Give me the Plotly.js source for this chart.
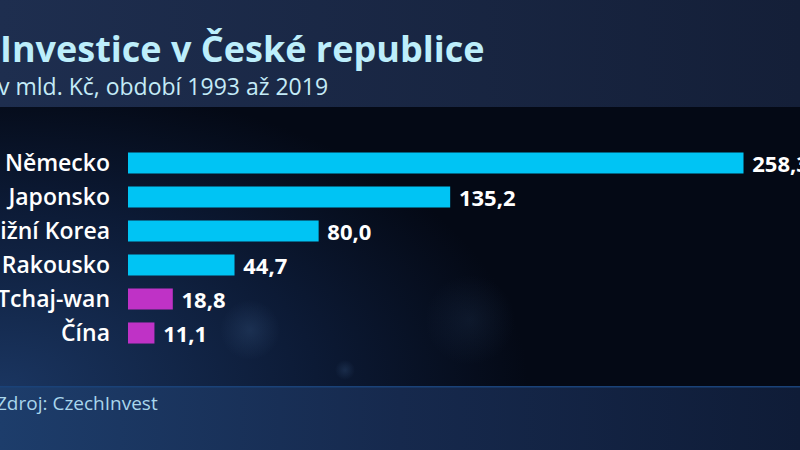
<!DOCTYPE html>
<html>
<head>
<meta charset="utf-8">
<script src="https://cdn.plot.ly/plotly-3.0.1.min.js"></script>
<style>html,body{margin:0;padding:0;background:#050a18;}#chart{width:800px;height:450px;}</style>
</head>
<body>
<div id="chart"></div>
<script>
// Data
const countries = ["Německo", "Japonsko", "Jižní Korea", "Rakousko", "Tchaj-wan", "Čína"];
const values = [258.3, 135.2, 80.0, 44.7, 18.8, 11.1];
const barColors = ["#00c4f4", "#00c4f4", "#00c4f4", "#00c4f4", "#bf32c6", "#bf32c6"];
const titleText = "Investice v České republice";
const subtitleText = "v mld. Kč, období 1993 až 2019";
const sourceText = "Zdroj: CzechInvest";

// geometry helpers (pixel -> paper)
const W = 800, H = 450, L = 128, R = 0, T = 146, B = 100;
const pw = W - L - R, ph = H - T - B;
const px = x => (x - L) / pw;
const py = y => (H - B - y) / ph;

const bg = `<svg xmlns="http://www.w3.org/2000/svg" width="800" height="450" viewBox="0 0 800 450">
<defs>
<linearGradient id="top" x1="0" y1="0" x2="1" y2="0">
<stop offset="0" stop-color="#1e2e4f"/><stop offset="1" stop-color="#141f38"/></linearGradient>
<radialGradient id="mid" cx="0" cy="1" r="1.1" gradientUnits="objectBoundingBox" gradientTransform="scale(0.6,1)">
<stop offset="0" stop-color="#1a3560"/><stop offset="0.6" stop-color="#0c1a35"/><stop offset="1" stop-color="#040915"/></radialGradient>
<linearGradient id="foot" x1="0" y1="0" x2="1" y2="0">
<stop offset="0" stop-color="#1d3d6b"/><stop offset="0.5" stop-color="#16294d"/><stop offset="1" stop-color="#0f1c37"/></linearGradient>
<radialGradient id="bok" cx="0.5" cy="0.5" r="0.5"><stop offset="0" stop-color="#3a5a85" stop-opacity="0.3"/><stop offset="1" stop-color="#3a5a85" stop-opacity="0"/></radialGradient>
</defs>
<rect x="0" y="0" width="800" height="450" fill="#050a18"/>
<rect x="0" y="107" width="800" height="280" fill="url(#mid)"/>
<circle cx="345" cy="370" r="10" fill="url(#bok)"/>
<circle cx="250" cy="330" r="30" fill="url(#bok)"/>
<circle cx="470" cy="320" r="45" fill="url(#bok)" opacity="0.5"/>
<rect x="0" y="0" width="800" height="107" fill="url(#top)"/>
<rect x="0" y="387" width="800" height="63" fill="url(#foot)"/>
<rect x="0" y="386" width="800" height="1.5" fill="#1a4278"/>
</svg>`;

const trace = {
  type: "bar",
  orientation: "h",
  x: values,
  y: countries,
  marker: { color: barColors, line: { width: 0 } },
  texttemplate: "\u00a0%{x:.1f}",
  textposition: "outside",
  constraintext: "none",
  cliponaxis: false,
  textfont: { family: "Open Sans", size: 22, color: "#ffffff", weight: 700 },
  hoverinfo: "skip"
};

const layout = {
  width: W, height: H,
  margin: { l: L, r: R, t: T, b: B, pad: 0 },
  paper_bgcolor: "#050a18",
  plot_bgcolor: "rgba(0,0,0,0)",
  separators: ", ",
  showlegend: false,
  bargap: 0.38,
  xaxis: { range: [0, 282], visible: false, showgrid: false, zeroline: false, fixedrange: true },
  yaxis: {
    autorange: "reversed", showgrid: false, zeroline: false, showline: false, ticks: "",
    ticklabelstandoff: 17,
    tickfont: { family: "Open Sans", size: 23, color: "#ffffff", weight: 600 }
  },
  images: [{
    source: "data:image/svg+xml;charset=utf-8," + encodeURIComponent(bg),
    xref: "paper", yref: "paper", x: px(0), y: py(0), sizex: W / pw, sizey: H / ph,
    xanchor: "left", yanchor: "top", sizing: "stretch", layer: "below"
  }],
  annotations: [
    { text: titleText, xref: "paper", yref: "paper", x: px(-2), y: py(49), xanchor: "left", yanchor: "middle",
      showarrow: false, font: { family: "Open Sans", size: 36, color: "#bdeefb", weight: 700 } },
    { text: subtitleText, xref: "paper", yref: "paper", x: px(-4), y: py(86), xanchor: "left", yanchor: "middle",
      showarrow: false, font: { family: "Open Sans", size: 23, color: "#c4ebf7", weight: 500 } },
    { text: sourceText, xref: "paper", yref: "paper", x: px(-6), y: py(403), xanchor: "left", yanchor: "middle",
      showarrow: false, font: { family: "Open Sans", size: 19, color: "#a9d6ec" } }
  ]
};

Plotly.newPlot("chart", [trace], layout, { staticPlot: true, displayModeBar: false });
</script>
</body>
</html>
